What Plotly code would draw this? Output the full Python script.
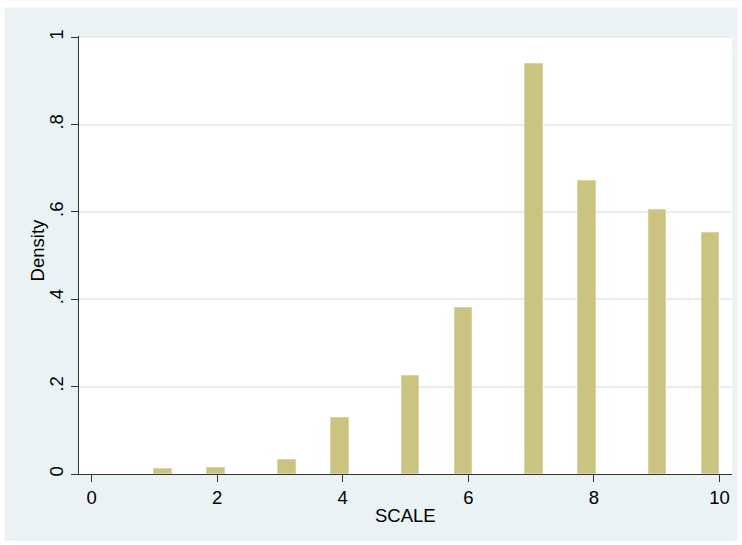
import math
import plotly.graph_objects as go

# Data
scale_values = [1, 2, 3, 4, 5, 6, 7, 8, 9, 10]
density = [0.0119, 0.0142, 0.0325, 0.128, 0.2245, 0.379, 0.939, 0.671, 0.604, 0.551]
n_bins = 32
x_ticks = [0, 2, 4, 6, 8, 10]
y_ticks = [0, 0.2, 0.4, 0.6, 0.8, 1.0]
y_tick_labels = ["0", ".2", ".4", ".6", ".8", "1"]
x_title = "SCALE"
y_title = "Density"

# histogram bin placement (Stata-style bins over the data range)
lo, hi = min(scale_values), max(scale_values)
bw = (hi - lo) / n_bins
centers = []
for v in scale_values:
    k = min(int(math.floor((v - lo) / bw + 1e-9)), n_bins - 1)
    centers.append(lo + (k + 0.5) * bw)

W, H = 742, 545
ml, mr, mt, mb = 79.3, 10.3, 35.5, 71
pw, ph = W - ml - mr, H - mt - mb

fig = go.Figure()
fig.add_trace(go.Bar(
    x=centers, y=density, width=[bw] * len(centers),
    marker=dict(color="#CAC381", line=dict(color="#D9D4A0", width=1)),
    hoverinfo="x+y", showlegend=False,
))

font = dict(family="Liberation Sans, Arial, sans-serif", size=18.5, color="#000000")

def px_to_paper_x(p):
    return (p - ml) / pw

def px_to_paper_y(p):
    return 1 - (p - mt) / ph

# thin white frame around the light background
shapes = []
for (x0, y0, x1, y1) in [(0, 0, W, 7), (0, 541, W, H), (0, 0, 5, H), (737, 0, W, H)]:
    shapes.append(dict(type="rect", xref="paper", yref="paper",
                       x0=px_to_paper_x(x0), x1=px_to_paper_x(x1),
                       y0=px_to_paper_y(y1), y1=px_to_paper_y(y0),
                       fillcolor="white", line=dict(width=0), layer="above"))

annotations = [
    dict(text=x_title, xref="paper", yref="paper",
         x=px_to_paper_x(405.5), y=px_to_paper_y(515.5),
         xanchor="center", yanchor="middle", showarrow=False, font=font),
    dict(text=y_title, xref="paper", yref="paper",
         x=px_to_paper_x(37.5), y=px_to_paper_y(250),
         xanchor="center", yanchor="middle", textangle=-90, showarrow=False, font=font),
]

fig.update_layout(
    width=W, height=H,
    margin=dict(l=ml, r=mr, t=mt, b=mb, pad=0),
    paper_bgcolor="#EAF2F3",
    plot_bgcolor="white",
    font=font,
    bargap=0,
    shapes=shapes,
    annotations=annotations,
    xaxis=dict(
        range=[-0.2, 10.2], tickvals=x_ticks, ticktext=[str(t) for t in x_ticks],
        showgrid=False, zeroline=False, showline=True, linecolor="#333333", linewidth=1,
        ticks="outside", ticklen=7, tickcolor="#333333", tickwidth=1,
        ticklabelstandoff=0,
    ),
    yaxis=dict(
        range=[0, 1.003], tickvals=y_ticks, ticktext=y_tick_labels,
        showgrid=True, gridcolor="#E8EFF0", gridwidth=1.5,
        zeroline=False, showline=True, linecolor="#333333", linewidth=1,
        ticks="outside", ticklen=7, tickcolor="#333333", tickwidth=1,
        tickangle=-90, ticklabelstandoff=1,
    ),
)

fig.write_html(
    "out.html",
    config={"displayModeBar": False},
    post_script="document.body.style.margin='0';document.body.style.padding='0';document.body.style.overflow='hidden';",
)
